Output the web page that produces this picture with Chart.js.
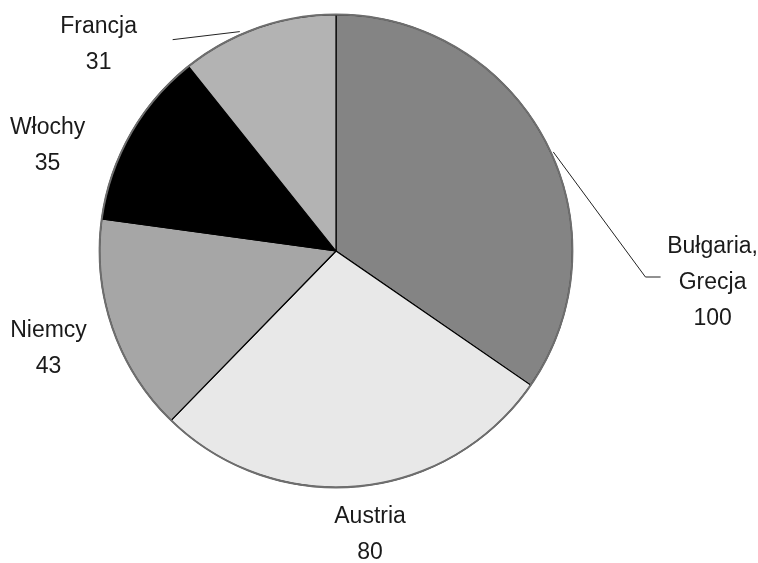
<!DOCTYPE html>
<html>
<head>
<meta charset="utf-8">
<script src="https://cdn.jsdelivr.net/npm/chart.js@4"></script>
<style>
  html, body { margin: 0; padding: 0; background: #fff; }
  #wrap { width: 758px; height: 563px; }
</style>
</head>
<body>
<div id="wrap"><canvas id="pie" width="758" height="563"></canvas></div>
<script>
// slice data, clockwise from 12 o'clock
const countries = [['Bułgaria,', 'Grecja'], ['Austria'], ['Niemcy'], ['Włochy'], ['Francja']];
const counts = [100, 80, 43, 35, 31];
const sliceColors = ['#848484', '#e8e8e8', '#a6a6a6', '#000000', '#b3b3b3'];

// label placement relative to the pie centre, in radius units
const labelPlaces = [
  { dx: 1.593, dy: 0.136, leader: [[0.919, -0.419], [1.309, 0.110], [1.373, 0.110]] },
  { dx: 0.144, dy: 1.199 },
  { dx: -1.216, dy: 0.413 },
  { dx: -1.22, dy: -0.447 },
  { dx: -1.004, dy: -0.873, leader: [[-0.407, -0.928], [-0.691, -0.894]] }
];

const labelPlugin = {
  id: 'sliceLabels',
  afterDatasetsDraw(chart) {
    const ctx = chart.ctx;
    const arc = chart.getDatasetMeta(0).data[0];
    const cx = arc.x, cy = arc.y, r = arc.outerRadius;

    // grey rim round the whole pie
    ctx.save();
    ctx.beginPath();
    ctx.arc(cx, cy, r, 0, Math.PI * 2);
    ctx.strokeStyle = '#6e6e6e';
    ctx.lineWidth = 2;
    ctx.stroke();

    ctx.font = '23px "Liberation Sans", Arial, sans-serif';
    ctx.fillStyle = '#1a1a1a';
    ctx.textAlign = 'center';
    ctx.textBaseline = 'middle';
    const lineGap = 36;

    labelPlaces.forEach((p, i) => {
      if (p.leader) {
        ctx.beginPath();
        p.leader.forEach((pt, k) => {
          const x = cx + pt[0] * r, y = cy + pt[1] * r;
          if (k === 0) ctx.moveTo(x, y); else ctx.lineTo(x, y);
        });
        ctx.strokeStyle = '#222';
        ctx.lineWidth = 1;
        ctx.stroke();
      }
      const lines = countries[i].concat([String(counts[i])]);
      const x = cx + p.dx * r;
      const y0 = cy + p.dy * r - (lines.length - 1) * lineGap / 2;
      lines.forEach((t, k) => ctx.fillText(t, x, y0 + k * lineGap));
    });
    ctx.restore();
  }
};

new Chart(document.getElementById('pie'), {
  type: 'pie',
  data: {
    labels: countries.map(c => c.join(' ')),
    datasets: [{
      data: counts,
      backgroundColor: sliceColors,
      borderColor: '#000',
      borderWidth: 1.2
    }]
  },
  options: {
    responsive: false,
    animation: false,
    layout: { padding: { left: 99, right: 185, top: 14, bottom: 75 } },
    plugins: {
      legend: { display: false },
      tooltip: { enabled: false }
    }
  },
  plugins: [labelPlugin]
});
</script>
</body>
</html>
